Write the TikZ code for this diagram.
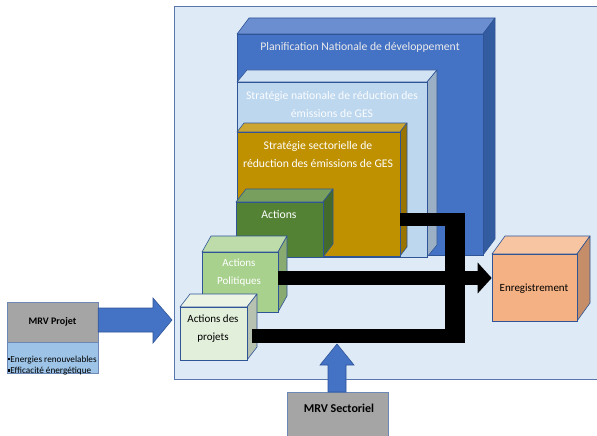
\documentclass[tikz,border=0pt]{standalone}
\usepackage{fontspec}
\setmainfont{Carlito}
\usetikzlibrary{arrows.meta,fit}
\definecolor{panel}{HTML}{DEEAF6}
\definecolor{edge}{HTML}{2F5597}
\definecolor{planF}{HTML}{4472C4}\definecolor{planT}{HTML}{6A8ECF}\definecolor{planS}{HTML}{335B9F}
\definecolor{natF}{HTML}{BDD7EE}\definecolor{natT}{HTML}{D2E4F4}\definecolor{natS}{HTML}{9BB0C4}
\definecolor{secF}{HTML}{BF9000}\definecolor{secT}{HTML}{CDA632}\definecolor{secS}{HTML}{9A7400}
\definecolor{actF}{HTML}{548235}\definecolor{actT}{HTML}{789F5E}\definecolor{actS}{HTML}{436A2A}
\definecolor{polF}{HTML}{A9D18E}\definecolor{polT}{HTML}{BEDCAA}\definecolor{polS}{HTML}{89AB72}
\definecolor{prjF}{HTML}{E2EFDA}\definecolor{prjT}{HTML}{EBF4E5}\definecolor{prjS}{HTML}{B8C2B0}
\definecolor{enrF}{HTML}{F4B183}\definecolor{enrT}{HTML}{F7C5A1}\definecolor{enrS}{HTML}{C58E69}
\definecolor{mrvgray}{HTML}{A5A5A5}
\definecolor{mrvblue}{HTML}{9DC3E6}
\definecolor{arrowblue}{HTML}{4472C4}
% name, x1, y1, x2, y2, dx, dy, colour prefix
\newcommand{\mycube}[8]{%
  \filldraw[fill=#8T,draw=edge,line width=0.6pt,line join=round] (#2,#3) -- (#2+#6,#3-#7) -- (#4+#6,#3-#7) -- (#4,#3) -- cycle;
  \filldraw[fill=#8S,draw=edge,line width=0.6pt,line join=round] (#4,#3) -- (#4+#6,#3-#7) -- (#4+#6,#5-#7) -- (#4,#5) -- cycle;
  \node[fit={(#2,#3)(#4,#5)},inner sep=0pt,fill=#8F,draw=edge,line width=0.6pt] (#1) {};
}
\tikzset{
  lbl/.style={font=\fontsize{11}{18}\selectfont,align=center,inner sep=0pt},
  biglbl/.style={lbl,font=\fontsize{11.7}{18}\selectfont},
  conn/.style={line width=14pt,black},
  bluearrow/.style={draw=edge,fill=arrowblue,line width=0.6pt,line join=miter}
}
\begin{document}
\begin{tikzpicture}[x=1pt,y=-1pt]
\useasboundingbox (0,0) rectangle (597,436);
\fill[white] (0,0) rectangle (597,436);
% panel
\node[fit={(174,6)(600,379)},inner sep=0pt,fill=panel,draw=edge!80,line width=0.6pt] (panel) {};
% cubes
\mycube{plan}{237}{34}{483}{255}{12}{16}{plan}
\node[biglbl,text=white!92!black] (plant) at (360,47) {Planification Nationale de développement};
\mycube{nat}{237}{82}{427}{257}{10}{12}{nat}
\node[biglbl,text=white!95!natF] (natt) at (332,104) {Stratégie nationale de réduction des\\émissions de GES};
\mycube{sec}{237}{132}{400}{256}{7}{9}{sec}
\node[biglbl,text=white] (sect) at (318,154) {Stratégie sectorielle de\\réduction des émissions de GES};
\mycube{act}{236}{202}{323}{257}{10}{13}{act}
\node[biglbl,text=white] (actt) at (279,214) {Actions};
\mycube{pol}{202}{252}{278}{312}{9}{16}{pol}
\node[lbl,text=white] (polt) at (239,273) {Actions\\Politiques};
\mycube{prj}{180}{307}{247}{360}{10}{13}{prj}
\node[lbl,text=black] (prjt) at (213,328.5) {Actions des\\projets};
\mycube{enr}{492}{254}{577}{321}{13}{18}{enr}
\node[lbl,text=black] (enrt) at (534,289) {Enregistrement};
% black connectors
\coordinate (j1) at (465,219);
\coordinate (jt) at (455,212.5);
\coordinate (jb) at (455,343);
\coordinate (j3) at (465,336);
\draw[conn,line width=13pt] (sec.east |- j1) -- (j1);
\draw[conn,line width=20pt] (jt) -- (jb);
\draw[conn] ([xshift=5pt]prj.east |- j3) -- (j3);
\draw[conn,-{Triangle[length=14pt,width=30pt]}] (pol.east |- 0,278) -- (enr.west |- 0,278);
% MRV Projet
\node[fit={(7,302)(98,342)},inner sep=0pt,fill=mrvgray,draw=edge!70,line width=0.5pt] (mrvp) {};
\node[font=\fontsize{10}{11}\selectfont\bfseries] (mrvpt) at (mrvp.center) {MRV Projet};
\node[fit={(7,342)(98,373)},inner sep=0pt,fill=mrvblue,draw=edge!70,line width=0.5pt] (mrvl) {};
\node[anchor=west,font=\fontsize{9.2}{11.5}\selectfont,align=left,inner sep=0pt] (mrvlt) at (8,365.5)
  {\raisebox{0.45ex}{\rule{2.3pt}{2.3pt}}Energies renouvelables\\\raisebox{0.45ex}{\rule{2.3pt}{2.3pt}}Efficacité énergétique};
% MRV Sectoriel
\node[fit={(287,392)(388,445)},inner sep=0pt,fill=mrvgray,draw=edge!70,line width=0.5pt] (mrvs) {};
\node[font=\fontsize{12}{13}\selectfont\bfseries] (mrvst) at (339,408) {MRV Sectoriel};
% blue arrows
\coordinate (ra) at (172,320);
\filldraw[bluearrow] (mrvp.east |- 0,308) -- (153,308) -- (153,298) -- (ra) -- (153,343) -- (153,332) -- (mrvp.east |- 0,332) -- cycle;
\coordinate (ua) at (337,344);
\filldraw[bluearrow] (328,392) -- (328,365) -- (320,365) -- (ua) -- (354,365) -- (346,365) -- (346,392) -- cycle;
\end{tikzpicture}
\end{document}
